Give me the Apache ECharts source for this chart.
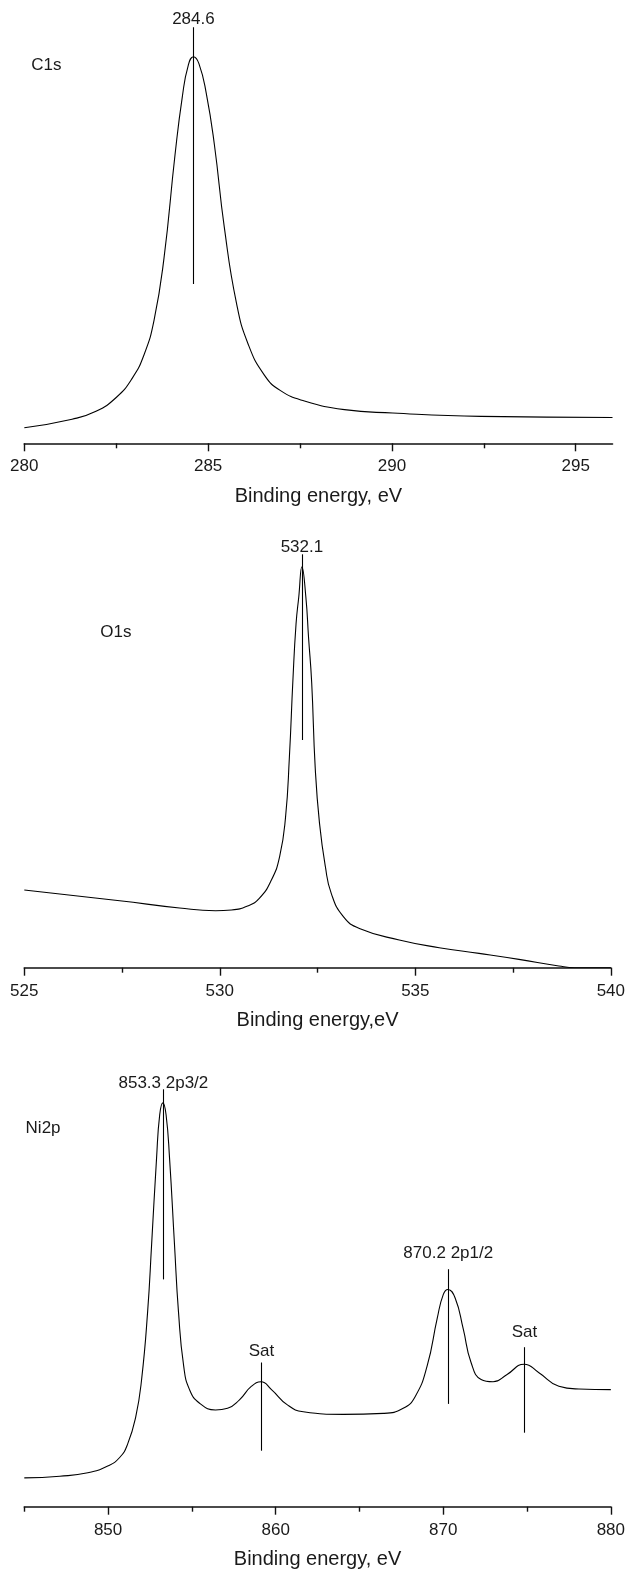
<!DOCTYPE html>
<html><head><meta charset="utf-8">
<script src="https://cdn.jsdelivr.net/npm/echarts@6/dist/echarts.min.js"></script>
<style>html,body{margin:0;padding:0;background:#fff}#c{width:628px;height:1572px}</style>
</head><body><div id="c"></div>
<script>
// ---- C1s panel ----
const c1sEnergy = [280, 281.3, 281.95, 282.5, 282.93, 283.26, 283.53, 283.8, 284.1, 284.3, 284.46, 284.6, 284.75, 284.95, 285.17, 285.44, 285.77, 286.09, 286.53, 286.97, 287.62, 288.71, 290.02, 292.42, 296];
const c1sIntensity = [15.5, 24.1, 32, 45.8, 64.7, 88.8, 123.2, 185.2, 288.5, 347, 378, 386.6, 379.7, 350, 298.8, 216.2, 140.4, 99.1, 68.2, 52.7, 42.3, 33.7, 30.3, 26.9, 25.8];
const c1sMajorTicks = [280, 285, 290, 295];
const c1sMinorTicks = [282.5, 287.5, 292.5];
const c1sMarkers = [{ x: 284.6, low: 159.4, high: 416, text: '284.6', textY: 423.5 }];
const c1sTitle = { x: 280.6, y: 378, text: 'C1s' };

// ---- O1s panel ----
const o1sEnergy = [525, 527.44, 528.97, 529.89, 530.3, 530.71, 531.01, 531.32, 531.53, 531.68, 531.78, 531.87, 531.95, 532.02, 532.1, 532.2, 532.27, 532.35, 532.44, 532.55, 532.7, 532.85, 533.16, 533.57, 534.59, 535.61, 536.63, 537.65, 538.67, 539.08, 540];
const o1sIntensity = [77.7, 67, 59.7, 57, 57.7, 61.7, 69.3, 87.7, 111, 150, 211, 288, 344, 371, 401, 371, 330, 285, 200, 144.3, 101, 74.3, 51, 39.3, 27.7, 20, 14.3, 8.3, 1.7, 0, 0];
const o1sMajorTicks = [525, 530, 535, 540];
const o1sMinorTicks = [527.5, 532.5, 537.5];
const o1sMarkers = [{ x: 532.1, low: 227.7, high: 413.4, text: '532.1', textY: 420.5 }];
const o1sTitle = { x: 527.34, y: 335, text: 'O1s' };

// ---- Ni2p panel ----
const ni2pEnergy = [845, 847.12, 848.79, 849.98, 850.69, 851.17, 851.65, 852.0, 852.36, 852.6, 852.89, 853.08, 853.27, 853.46, 853.67, 853.96, 854.2, 854.51, 854.86, 855.46, 856.41, 857.13, 857.84, 858.56, 859.13, 859.75, 860.7, 861.65, 864.04, 866.42, 867.61, 868.33, 869.04, 869.64, 870.0, 870.28, 870.71, 871.19, 871.66, 872.26, 872.97, 873.81, 874.83, 875.71, 876.9, 878.1, 880];
const ni2pIntensity = [28.8, 30.5, 33.9, 40.7, 49.2, 62.8, 89.9, 127.2, 195.1, 263, 347.8, 391.9, 403.8, 391.9, 347.8, 263, 195.1, 140.8, 117.1, 103.5, 96.7, 98.4, 106.9, 120.5, 124.9, 117.1, 101.8, 95, 92.3, 93.3, 98.4, 110.3, 140.8, 188.3, 212.1, 217.2, 208.7, 178.1, 144.2, 127.2, 124.9, 132.3, 142.5, 134, 120.5, 117.7, 117.1];
const ni2pMajorTicks = [850, 860, 870, 880];
const ni2pMinorTicks = [845, 855, 865, 875];
const ni2pMarkers = [
  { x: 853.3, low: 227.3, high: 417.4, text: '853.3 2p3/2', textY: 423 },
  { x: 859.15, low: 56, high: 144.2, text: 'Sat', textY: 155 },
  { x: 870.3, low: 102.8, high: 237.5, text: '870.2 2p1/2', textY: 253.5 },
  { x: 874.85, low: 74, high: 159.5, text: 'Sat', textY: 174 }
];
const ni2pTitle = { x: 846.12, y: 378.4, text: 'Ni2p' };

const FONT = 'Liberation Sans, Arial, Helvetica, sans-serif';
const TXT = '#1a1a1a';

const panels = [
  { energy: c1sEnergy, intensity: c1sIntensity, min: 280, max: 296, major: c1sMajorTicks, minor: c1sMinorTicks, markers: c1sMarkers, title: c1sTitle, name: 'Binding energy, eV', left: 24.3, width: 588.2, axisY: 443.3 },
  { energy: o1sEnergy, intensity: o1sIntensity, min: 525, max: 540, major: o1sMajorTicks, minor: o1sMinorTicks, markers: o1sMarkers, title: o1sTitle, name: 'Binding energy,eV', left: 24.3, width: 588.6, axisY: 967.7 },
  { energy: ni2pEnergy, intensity: ni2pIntensity, min: 845, max: 880, major: ni2pMajorTicks, minor: ni2pMinorTicks, markers: ni2pMarkers, title: ni2pTitle, name: 'Binding energy, eV', left: 24.3, width: 587.5, axisY: 1506.7 }
];
const H = 440;

const grid = [], xAxis = [], yAxis = [], series = [];
panels.forEach((p, i) => {
  grid.push({ left: p.left, width: p.width, top: p.axisY - H, height: H, containLabel: false });
  xAxis.push({
    gridIndex: i, type: 'value', position: 'bottom', min: p.min, max: p.max,
    axisLine: { show: true, onZero: false, lineStyle: { color: '#111', width: 1.6 } },
    axisTick: { show: true, customValues: p.major, length: 8, lineStyle: { color: '#111', width: 1.4 } },
    axisLabel: { show: true, customValues: p.major, margin: 15, fontSize: 17, color: TXT, fontFamily: FONT },
    splitLine: { show: false },
    name: p.name, nameLocation: 'middle', nameGap: 43,
    nameTextStyle: { fontSize: 20, color: TXT, fontFamily: FONT }
  });
  xAxis.push({
    gridIndex: i, type: 'value', position: 'bottom', offset: 0, min: p.min, max: p.max,
    axisLine: { show: false, onZero: false },
    axisTick: { show: true, customValues: p.minor, length: 5, lineStyle: { color: '#111', width: 1.4 } },
    axisLabel: { show: false },
    splitLine: { show: false }
  });
  yAxis.push({ gridIndex: i, type: 'value', min: 0, max: H, show: false });

  const data = p.energy.map((e, k) => [e, p.intensity[k]]);
  const labels = p.markers.map(m => ({ coord: [m.x, m.textY], name: m.text }));
  labels.push({ coord: [p.title.x, p.title.y], name: p.title.text });
  series.push({
    type: 'line', xAxisIndex: 2 * i, yAxisIndex: i, data,
    showSymbol: false, symbol: 'none', smooth: 0.5,
    lineStyle: { color: '#000', width: 1.1 },
    animation: false, silent: true,
    markLine: {
      silent: true, animation: false, symbol: ['none', 'none'],
      label: { show: false },
      lineStyle: { color: '#000', width: 1.1, type: 'solid' },
      emphasis: { disabled: true },
      data: p.markers.map(m => [{ coord: [m.x, m.low] }, { coord: [m.x, m.high] }])
    },
    markPoint: {
      silent: true, animation: false, symbol: 'circle', symbolSize: 1,
      itemStyle: { color: 'rgba(0,0,0,0)' },
      label: { show: true, position: 'inside', formatter: '{b}', fontSize: 17, color: TXT, fontFamily: FONT },
      data: labels
    }
  });
});

const chart = echarts.init(document.getElementById('c'), null, { renderer: 'canvas' });
chart.setOption({ animation: false, backgroundColor: '#fff', grid, xAxis, yAxis, series });
</script>
</body></html>
